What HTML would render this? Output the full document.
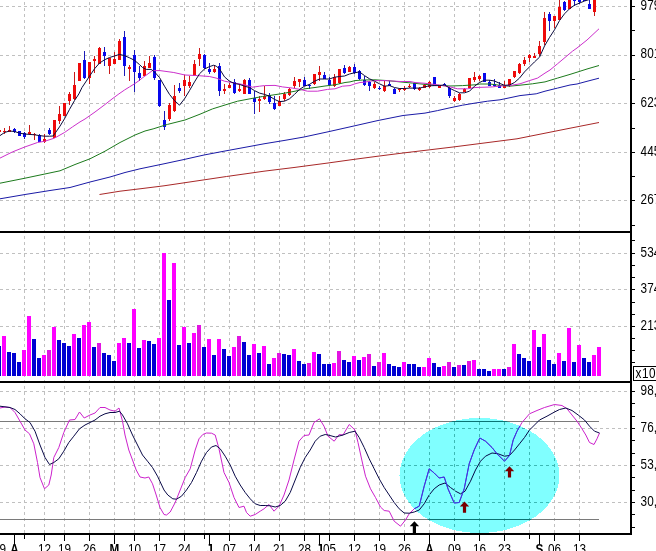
<!DOCTYPE html>
<html><head><meta charset="utf-8"><title>chart</title>
<style>
html,body{margin:0;padding:0;background:#fff;overflow:hidden}
svg{display:block}
text{font-family:"Liberation Sans",sans-serif;font-size:14.7px;fill:#000}
.b{font-weight:bold}
</style></head><body>
<svg width="656" height="551" viewBox="0 0 656 551">
<rect width="656" height="551" fill="#fff"/>
<g stroke="#c0c0c0" stroke-width="1" stroke-dasharray="3 3" shape-rendering="crispEdges">
<line x1="24.5" y1="2" x2="24.5" y2="231"/><line x1="24.5" y1="230" x2="24.5" y2="381"/><line x1="24.5" y1="380" x2="24.5" y2="533"/>
<line x1="44.5" y1="2" x2="44.5" y2="231"/><line x1="44.5" y1="230" x2="44.5" y2="381"/><line x1="44.5" y1="380" x2="44.5" y2="533"/>
<line x1="64.5" y1="2" x2="64.5" y2="231"/><line x1="64.5" y1="230" x2="64.5" y2="381"/><line x1="64.5" y1="380" x2="64.5" y2="533"/>
<line x1="89.5" y1="2" x2="89.5" y2="231"/><line x1="89.5" y1="230" x2="89.5" y2="381"/><line x1="89.5" y1="380" x2="89.5" y2="533"/>
<line x1="114.5" y1="2" x2="114.5" y2="231"/><line x1="114.5" y1="230" x2="114.5" y2="381"/><line x1="114.5" y1="380" x2="114.5" y2="533"/>
<line x1="134.5" y1="2" x2="134.5" y2="231"/><line x1="134.5" y1="230" x2="134.5" y2="381"/><line x1="134.5" y1="380" x2="134.5" y2="533"/>
<line x1="159.5" y1="2" x2="159.5" y2="231"/><line x1="159.5" y1="230" x2="159.5" y2="381"/><line x1="159.5" y1="380" x2="159.5" y2="533"/>
<line x1="184.5" y1="2" x2="184.5" y2="231"/><line x1="184.5" y1="230" x2="184.5" y2="381"/><line x1="184.5" y1="380" x2="184.5" y2="533"/>
<line x1="204.5" y1="2" x2="204.5" y2="231"/><line x1="204.5" y1="230" x2="204.5" y2="381"/><line x1="204.5" y1="380" x2="204.5" y2="533"/>
<line x1="229.5" y1="2" x2="229.5" y2="231"/><line x1="229.5" y1="230" x2="229.5" y2="381"/><line x1="229.5" y1="380" x2="229.5" y2="533"/>
<line x1="254.5" y1="2" x2="254.5" y2="231"/><line x1="254.5" y1="230" x2="254.5" y2="381"/><line x1="254.5" y1="380" x2="254.5" y2="533"/>
<line x1="279.5" y1="2" x2="279.5" y2="231"/><line x1="279.5" y1="230" x2="279.5" y2="381"/><line x1="279.5" y1="380" x2="279.5" y2="533"/>
<line x1="304.5" y1="2" x2="304.5" y2="231"/><line x1="304.5" y1="230" x2="304.5" y2="381"/><line x1="304.5" y1="380" x2="304.5" y2="533"/>
<line x1="329.5" y1="2" x2="329.5" y2="231"/><line x1="329.5" y1="230" x2="329.5" y2="381"/><line x1="329.5" y1="380" x2="329.5" y2="533"/>
<line x1="354.5" y1="2" x2="354.5" y2="231"/><line x1="354.5" y1="230" x2="354.5" y2="381"/><line x1="354.5" y1="380" x2="354.5" y2="533"/>
<line x1="379.5" y1="2" x2="379.5" y2="231"/><line x1="379.5" y1="230" x2="379.5" y2="381"/><line x1="379.5" y1="380" x2="379.5" y2="533"/>
<line x1="404.5" y1="2" x2="404.5" y2="231"/><line x1="404.5" y1="230" x2="404.5" y2="381"/><line x1="404.5" y1="380" x2="404.5" y2="533"/>
<line x1="429.5" y1="2" x2="429.5" y2="231"/><line x1="429.5" y1="230" x2="429.5" y2="381"/><line x1="429.5" y1="380" x2="429.5" y2="533"/>
<line x1="454.5" y1="2" x2="454.5" y2="231"/><line x1="454.5" y1="230" x2="454.5" y2="381"/><line x1="454.5" y1="380" x2="454.5" y2="533"/>
<line x1="479.5" y1="2" x2="479.5" y2="231"/><line x1="479.5" y1="230" x2="479.5" y2="381"/><line x1="479.5" y1="380" x2="479.5" y2="533"/>
<line x1="504.5" y1="2" x2="504.5" y2="231"/><line x1="504.5" y1="230" x2="504.5" y2="381"/><line x1="504.5" y1="380" x2="504.5" y2="533"/>
<line x1="529.5" y1="2" x2="529.5" y2="231"/><line x1="529.5" y1="230" x2="529.5" y2="381"/><line x1="529.5" y1="380" x2="529.5" y2="533"/>
<line x1="554.5" y1="2" x2="554.5" y2="231"/><line x1="554.5" y1="230" x2="554.5" y2="381"/><line x1="554.5" y1="380" x2="554.5" y2="533"/>
<line x1="579.5" y1="2" x2="579.5" y2="231"/><line x1="579.5" y1="230" x2="579.5" y2="381"/><line x1="579.5" y1="380" x2="579.5" y2="533"/>
<line x1="0" y1="6.5" x2="629" y2="6.5"/>
<line x1="0" y1="55.5" x2="629" y2="55.5"/>
<line x1="0" y1="103.5" x2="629" y2="103.5"/>
<line x1="0" y1="152.5" x2="629" y2="152.5"/>
<line x1="0" y1="200.5" x2="629" y2="200.5"/>
<line x1="0" y1="253.5" x2="629" y2="253.5"/>
<line x1="0" y1="289.5" x2="629" y2="289.5"/>
<line x1="0" y1="326.5" x2="629" y2="326.5"/>
<line x1="0" y1="391.5" x2="629" y2="391.5"/>
<line x1="0" y1="428.5" x2="629" y2="428.5"/>
<line x1="0" y1="465.5" x2="629" y2="465.5"/>
<line x1="0" y1="502.5" x2="629" y2="502.5"/>
</g>
<g stroke="#7a7a7a" stroke-width="1" shape-rendering="crispEdges"><line x1="0" y1="421.5" x2="599" y2="421.5"/><line x1="0" y1="519.5" x2="599" y2="519.5"/></g>
<g shape-rendering="crispEdges">
<rect x="-3" y="346" width="4" height="30" fill="#0000d2"/><rect x="2" y="336" width="4" height="40" fill="#ff00ff"/><rect x="7" y="352" width="4" height="24" fill="#0000d2"/><rect x="12" y="353" width="4" height="23" fill="#0000d2"/><rect x="17" y="362" width="4" height="14" fill="#0000d2"/><rect x="22" y="350" width="4" height="26" fill="#ff00ff"/><rect x="27" y="316" width="4" height="60" fill="#ff00ff"/><rect x="32" y="339" width="4" height="37" fill="#0000d2"/><rect x="37" y="358" width="4" height="18" fill="#0000d2"/><rect x="42" y="355" width="4" height="21" fill="#ff00ff"/><rect x="47" y="350" width="4" height="26" fill="#e214e2"/><rect x="52" y="327" width="4" height="49" fill="#ff00ff"/><rect x="57" y="340" width="4" height="36" fill="#0000d2"/><rect x="62" y="343" width="4" height="33" fill="#0000d2"/><rect x="67" y="346" width="4" height="30" fill="#0000d2"/><rect x="72" y="334" width="4" height="42" fill="#ff00ff"/><rect x="77" y="338" width="4" height="38" fill="#0000d2"/><rect x="82" y="325" width="4" height="51" fill="#ff00ff"/><rect x="87" y="322" width="4" height="54" fill="#ff00ff"/><rect x="92" y="347" width="4" height="29" fill="#0000d2"/><rect x="97" y="343" width="4" height="33" fill="#e214e2"/><rect x="102" y="353" width="4" height="23" fill="#0000d2"/><rect x="107" y="355" width="4" height="21" fill="#0000d2"/><rect x="112" y="361" width="4" height="15" fill="#0000d2"/><rect x="117" y="343" width="4" height="33" fill="#ff00ff"/><rect x="122" y="338" width="4" height="38" fill="#ff00ff"/><rect x="127" y="343" width="4" height="33" fill="#0000d2"/><rect x="132" y="309" width="4" height="67" fill="#ff00ff"/><rect x="137" y="348" width="4" height="28" fill="#0000d2"/><rect x="142" y="340" width="4" height="36" fill="#ff00ff"/><rect x="147" y="341" width="4" height="35" fill="#0000d2"/><rect x="152" y="344" width="4" height="32" fill="#0000d2"/><rect x="157" y="338" width="4" height="38" fill="#ff00ff"/><rect x="162" y="253" width="4" height="123" fill="#ff00ff"/><rect x="167" y="300" width="4" height="76" fill="#0000d2"/><rect x="172" y="263" width="4" height="113" fill="#ff00ff"/><rect x="177" y="345" width="4" height="31" fill="#0000d2"/><rect x="182" y="327" width="4" height="49" fill="#ff00ff"/><rect x="187" y="343" width="4" height="33" fill="#0000d2"/><rect x="192" y="333" width="4" height="43" fill="#ff00ff"/><rect x="197" y="325" width="4" height="51" fill="#e214e2"/><rect x="202" y="347" width="4" height="29" fill="#0000d2"/><rect x="207" y="339" width="4" height="37" fill="#ff00ff"/><rect x="212" y="355" width="4" height="21" fill="#0000d2"/><rect x="217" y="339" width="4" height="37" fill="#ff00ff"/><rect x="222" y="349" width="4" height="27" fill="#0000d2"/><rect x="227" y="356" width="4" height="20" fill="#0000d2"/><rect x="232" y="347" width="4" height="29" fill="#ff00ff"/><rect x="237" y="336" width="4" height="40" fill="#e214e2"/><rect x="242" y="342" width="4" height="34" fill="#0000d2"/><rect x="247" y="355" width="4" height="21" fill="#0000d2"/><rect x="252" y="344" width="4" height="32" fill="#ff00ff"/><rect x="257" y="353" width="4" height="23" fill="#0000d2"/><rect x="262" y="346" width="4" height="30" fill="#ff00ff"/><rect x="267" y="364" width="4" height="12" fill="#0000d2"/><rect x="272" y="358" width="4" height="18" fill="#ff00ff"/><rect x="277" y="353" width="4" height="23" fill="#e214e2"/><rect x="282" y="354" width="4" height="22" fill="#0000d2"/><rect x="287" y="355" width="4" height="21" fill="#0000d2"/><rect x="292" y="349" width="4" height="27" fill="#ff00ff"/><rect x="297" y="361" width="4" height="15" fill="#0000d2"/><rect x="302" y="364" width="4" height="12" fill="#0000d2"/><rect x="307" y="363" width="4" height="13" fill="#e214e2"/><rect x="312" y="352" width="4" height="24" fill="#ff00ff"/><rect x="317" y="354" width="4" height="22" fill="#0000d2"/><rect x="322" y="364" width="4" height="12" fill="#0000d2"/><rect x="327" y="364" width="4" height="12" fill="#0000d2"/><rect x="332" y="363" width="4" height="13" fill="#ff00ff"/><rect x="337" y="351" width="4" height="25" fill="#e214e2"/><rect x="342" y="360" width="4" height="16" fill="#0000d2"/><rect x="347" y="362" width="4" height="14" fill="#0000d2"/><rect x="352" y="356" width="4" height="20" fill="#ff00ff"/><rect x="357" y="360" width="4" height="16" fill="#0000d2"/><rect x="362" y="357" width="4" height="19" fill="#ff00ff"/><rect x="367" y="354" width="4" height="22" fill="#e214e2"/><rect x="372" y="366" width="4" height="10" fill="#0000d2"/><rect x="377" y="362" width="4" height="14" fill="#e214e2"/><rect x="382" y="353" width="4" height="23" fill="#ff00ff"/><rect x="387" y="364" width="4" height="12" fill="#0000d2"/><rect x="392" y="366" width="4" height="10" fill="#0000d2"/><rect x="397" y="367" width="4" height="9" fill="#0000d2"/><rect x="402" y="362" width="4" height="14" fill="#ff00ff"/><rect x="407" y="364" width="4" height="12" fill="#0000d2"/><rect x="412" y="364" width="4" height="12" fill="#0000d2"/><rect x="417" y="367" width="4" height="9" fill="#0000d2"/><rect x="422" y="367" width="4" height="9" fill="#ff00ff"/><rect x="427" y="358" width="4" height="18" fill="#ff00ff"/><rect x="432" y="363" width="4" height="13" fill="#0000d2"/><rect x="437" y="367" width="4" height="9" fill="#0000d2"/><rect x="442" y="366" width="4" height="10" fill="#ff00ff"/><rect x="447" y="362" width="4" height="14" fill="#e214e2"/><rect x="452" y="367" width="4" height="9" fill="#0000d2"/><rect x="457" y="365" width="4" height="11" fill="#e214e2"/><rect x="462" y="365" width="4" height="11" fill="#0000d2"/><rect x="467" y="361" width="4" height="15" fill="#e214e2"/><rect x="472" y="360" width="4" height="16" fill="#ff00ff"/><rect x="477" y="369" width="4" height="7" fill="#0000d2"/><rect x="482" y="369" width="4" height="7" fill="#0000d2"/><rect x="487" y="371" width="4" height="5" fill="#0000d2"/><rect x="492" y="369" width="4" height="7" fill="#ff00ff"/><rect x="497" y="369" width="4" height="7" fill="#ff00ff"/><rect x="502" y="369" width="4" height="7" fill="#0000d2"/><rect x="507" y="367" width="4" height="9" fill="#e214e2"/><rect x="512" y="344" width="4" height="32" fill="#ff00ff"/><rect x="517" y="354" width="4" height="22" fill="#0000d2"/><rect x="522" y="358" width="4" height="18" fill="#0000d2"/><rect x="527" y="361" width="4" height="15" fill="#0000d2"/><rect x="532" y="330" width="4" height="46" fill="#ff00ff"/><rect x="537" y="347" width="4" height="29" fill="#0000d2"/><rect x="542" y="334" width="4" height="42" fill="#ff00ff"/><rect x="547" y="360" width="4" height="16" fill="#0000d2"/><rect x="552" y="364" width="4" height="12" fill="#0000d2"/><rect x="557" y="353" width="4" height="23" fill="#ff00ff"/><rect x="562" y="361" width="4" height="15" fill="#0000d2"/><rect x="567" y="328" width="4" height="48" fill="#ff00ff"/><rect x="572" y="362" width="4" height="14" fill="#0000d2"/><rect x="577" y="345" width="4" height="31" fill="#ff00ff"/><rect x="582" y="358" width="4" height="18" fill="#0000d2"/><rect x="587" y="362" width="4" height="14" fill="#0000d2"/><rect x="592" y="355" width="4" height="21" fill="#ff00ff"/><rect x="597" y="347" width="4" height="29" fill="#ff00ff"/>
</g>
<g shape-rendering="crispEdges">
<rect x="-1" y="129" width="1" height="5" fill="#c81a1a"/><rect x="-2" y="130" width="3" height="2" fill="#ee0a0a"/><rect x="4" y="128" width="1" height="6" fill="#c81a1a"/><rect x="3" y="131" width="3" height="1" fill="#ee0a0a"/><rect x="9" y="126" width="1" height="6" fill="#c81a1a"/><rect x="8" y="130" width="3" height="2" fill="#ee0a0a"/><rect x="14" y="128" width="1" height="5" fill="#1a1ab8"/><rect x="13" y="129" width="3" height="3" fill="#0808ec"/><rect x="19" y="131" width="1" height="5" fill="#1a1ab8"/><rect x="18" y="131" width="3" height="5" fill="#0808ec"/><rect x="24" y="132" width="1" height="7" fill="#1a1ab8"/><rect x="23" y="133" width="3" height="4" fill="#0808ec"/><rect x="29" y="125" width="1" height="10" fill="#c81a1a"/><rect x="28" y="132" width="3" height="2" fill="#ee0a0a"/><rect x="34" y="133" width="1" height="7" fill="#c81a1a"/><rect x="33" y="134" width="3" height="1" fill="#ee0a0a"/><rect x="39" y="134" width="1" height="8" fill="#1a1ab8"/><rect x="38" y="135" width="3" height="7" fill="#0808ec"/><rect x="44" y="134" width="1" height="9" fill="#c81a1a"/><rect x="43" y="139" width="3" height="3" fill="#ee0a0a"/><rect x="49" y="128" width="1" height="7" fill="#1a1ab8"/><rect x="48" y="130" width="3" height="4" fill="#0808ec"/><rect x="54" y="120" width="1" height="18" fill="#c81a1a"/><rect x="53" y="120" width="3" height="18" fill="#ee0a0a"/><rect x="59" y="106" width="1" height="18" fill="#c81a1a"/><rect x="58" y="114" width="3" height="7" fill="#ee0a0a"/><rect x="64" y="103" width="1" height="13" fill="#c81a1a"/><rect x="63" y="103" width="3" height="13" fill="#ee0a0a"/><rect x="69" y="92" width="1" height="13" fill="#c81a1a"/><rect x="68" y="94" width="3" height="7" fill="#ee0a0a"/><rect x="74" y="72" width="1" height="28" fill="#c81a1a"/><rect x="73" y="85" width="3" height="14" fill="#ee0a0a"/><rect x="79" y="63" width="1" height="18" fill="#c81a1a"/><rect x="78" y="63" width="3" height="18" fill="#ee0a0a"/><rect x="84" y="51" width="1" height="28" fill="#1a1ab8"/><rect x="83" y="60" width="3" height="18" fill="#0808ec"/><rect x="89" y="62" width="1" height="22" fill="#c81a1a"/><rect x="88" y="62" width="3" height="16" fill="#ee0a0a"/><rect x="94" y="56" width="1" height="17" fill="#c81a1a"/><rect x="93" y="59" width="3" height="2" fill="#ee0a0a"/><rect x="99" y="47" width="1" height="17" fill="#c81a1a"/><rect x="98" y="48" width="3" height="16" fill="#ee0a0a"/><rect x="104" y="47" width="1" height="19" fill="#1a1ab8"/><rect x="103" y="52" width="3" height="4" fill="#0808ec"/><rect x="109" y="58" width="1" height="16" fill="#c81a1a"/><rect x="108" y="58" width="3" height="8" fill="#ee0a0a"/><rect x="114" y="52" width="1" height="12" fill="#c81a1a"/><rect x="113" y="59" width="3" height="5" fill="#ee0a0a"/><rect x="119" y="39" width="1" height="21" fill="#c81a1a"/><rect x="118" y="41" width="3" height="19" fill="#ee0a0a"/><rect x="124" y="31" width="1" height="45" fill="#1a1ab8"/><rect x="123" y="37" width="3" height="29" fill="#0808ec"/><rect x="129" y="65" width="1" height="16" fill="#c81a1a"/><rect x="128" y="67" width="3" height="2" fill="#ee0a0a"/><rect x="134" y="50" width="1" height="42" fill="#1a1ab8"/><rect x="133" y="55" width="3" height="17" fill="#0808ec"/><rect x="139" y="66" width="1" height="15" fill="#1a1ab8"/><rect x="138" y="73" width="3" height="5" fill="#0808ec"/><rect x="144" y="61" width="1" height="15" fill="#c81a1a"/><rect x="143" y="66" width="3" height="10" fill="#ee0a0a"/><rect x="149" y="56" width="1" height="12" fill="#c81a1a"/><rect x="148" y="63" width="3" height="5" fill="#ee0a0a"/><rect x="154" y="55" width="1" height="25" fill="#1a1ab8"/><rect x="153" y="57" width="3" height="21" fill="#0808ec"/><rect x="159" y="80" width="1" height="27" fill="#1a1ab8"/><rect x="158" y="80" width="3" height="26" fill="#0808ec"/><rect x="164" y="111" width="1" height="19" fill="#1a1ab8"/><rect x="163" y="120" width="3" height="7" fill="#0808ec"/><rect x="169" y="103" width="1" height="18" fill="#c81a1a"/><rect x="168" y="105" width="3" height="14" fill="#ee0a0a"/><rect x="174" y="85" width="1" height="27" fill="#c81a1a"/><rect x="173" y="96" width="3" height="15" fill="#ee0a0a"/><rect x="179" y="83" width="1" height="10" fill="#1a1ab8"/><rect x="178" y="88" width="3" height="3" fill="#0808ec"/><rect x="184" y="75" width="1" height="21" fill="#c81a1a"/><rect x="183" y="80" width="3" height="6" fill="#ee0a0a"/><rect x="189" y="76" width="1" height="12" fill="#c81a1a"/><rect x="188" y="82" width="3" height="4" fill="#ee0a0a"/><rect x="194" y="60" width="1" height="16" fill="#c81a1a"/><rect x="193" y="64" width="3" height="12" fill="#ee0a0a"/><rect x="199" y="48" width="1" height="18" fill="#c81a1a"/><rect x="198" y="54" width="3" height="5" fill="#ee0a0a"/><rect x="204" y="54" width="1" height="15" fill="#1a1ab8"/><rect x="203" y="55" width="3" height="13" fill="#0808ec"/><rect x="209" y="63" width="1" height="11" fill="#1a1ab8"/><rect x="208" y="69" width="3" height="3" fill="#0808ec"/><rect x="214" y="66" width="1" height="7" fill="#c81a1a"/><rect x="213" y="69" width="3" height="3" fill="#ee0a0a"/><rect x="219" y="63" width="1" height="33" fill="#1a1ab8"/><rect x="218" y="66" width="3" height="25" fill="#0808ec"/><rect x="224" y="84" width="1" height="10" fill="#c81a1a"/><rect x="223" y="89" width="3" height="2" fill="#ee0a0a"/><rect x="229" y="83" width="1" height="5" fill="#c81a1a"/><rect x="228" y="85" width="3" height="3" fill="#ee0a0a"/><rect x="234" y="79" width="1" height="15" fill="#1a1ab8"/><rect x="233" y="82" width="3" height="11" fill="#0808ec"/><rect x="239" y="84" width="1" height="8" fill="#c81a1a"/><rect x="238" y="89" width="3" height="2" fill="#ee0a0a"/><rect x="244" y="79" width="1" height="15" fill="#c81a1a"/><rect x="243" y="80" width="3" height="14" fill="#ee0a0a"/><rect x="249" y="78" width="1" height="16" fill="#1a1ab8"/><rect x="248" y="80" width="3" height="14" fill="#0808ec"/><rect x="254" y="91" width="1" height="23" fill="#1a1ab8"/><rect x="253" y="98" width="3" height="4" fill="#0808ec"/><rect x="259" y="96" width="1" height="16" fill="#c81a1a"/><rect x="258" y="99" width="3" height="2" fill="#ee0a0a"/><rect x="264" y="86" width="1" height="14" fill="#c81a1a"/><rect x="263" y="96" width="3" height="3" fill="#ee0a0a"/><rect x="269" y="93" width="1" height="11" fill="#1a1ab8"/><rect x="268" y="95" width="3" height="7" fill="#0808ec"/><rect x="274" y="96" width="1" height="14" fill="#1a1ab8"/><rect x="273" y="103" width="3" height="6" fill="#0808ec"/><rect x="279" y="96" width="1" height="10" fill="#c81a1a"/><rect x="278" y="101" width="3" height="5" fill="#ee0a0a"/><rect x="284" y="92" width="1" height="9" fill="#c81a1a"/><rect x="283" y="94" width="3" height="5" fill="#ee0a0a"/><rect x="289" y="88" width="1" height="8" fill="#c81a1a"/><rect x="288" y="89" width="3" height="6" fill="#ee0a0a"/><rect x="294" y="77" width="1" height="11" fill="#c81a1a"/><rect x="293" y="81" width="3" height="5" fill="#ee0a0a"/><rect x="299" y="79" width="1" height="8" fill="#c81a1a"/><rect x="298" y="79" width="3" height="3" fill="#ee0a0a"/><rect x="304" y="77" width="1" height="9" fill="#1a1ab8"/><rect x="303" y="80" width="3" height="6" fill="#0808ec"/><rect x="309" y="84" width="1" height="5" fill="#1a1ab8"/><rect x="308" y="85" width="3" height="1" fill="#0808ec"/><rect x="314" y="74" width="1" height="11" fill="#c81a1a"/><rect x="313" y="74" width="3" height="10" fill="#ee0a0a"/><rect x="319" y="66" width="1" height="15" fill="#c81a1a"/><rect x="318" y="72" width="3" height="3" fill="#ee0a0a"/><rect x="324" y="72" width="1" height="7" fill="#1a1ab8"/><rect x="323" y="75" width="3" height="4" fill="#0808ec"/><rect x="329" y="77" width="1" height="9" fill="#1a1ab8"/><rect x="328" y="80" width="3" height="5" fill="#0808ec"/><rect x="334" y="74" width="1" height="13" fill="#c81a1a"/><rect x="333" y="77" width="3" height="9" fill="#ee0a0a"/><rect x="339" y="69" width="1" height="15" fill="#c81a1a"/><rect x="338" y="69" width="3" height="14" fill="#ee0a0a"/><rect x="344" y="65" width="1" height="9" fill="#1a1ab8"/><rect x="343" y="68" width="3" height="5" fill="#0808ec"/><rect x="349" y="66" width="1" height="6" fill="#c81a1a"/><rect x="348" y="67" width="3" height="5" fill="#ee0a0a"/><rect x="354" y="64" width="1" height="10" fill="#1a1ab8"/><rect x="353" y="67" width="3" height="6" fill="#0808ec"/><rect x="359" y="70" width="1" height="10" fill="#1a1ab8"/><rect x="358" y="71" width="3" height="8" fill="#0808ec"/><rect x="364" y="76" width="1" height="10" fill="#1a1ab8"/><rect x="363" y="80" width="3" height="5" fill="#0808ec"/><rect x="369" y="81" width="1" height="10" fill="#1a1ab8"/><rect x="368" y="82" width="3" height="4" fill="#0808ec"/><rect x="374" y="82" width="1" height="7" fill="#c81a1a"/><rect x="373" y="84" width="3" height="4" fill="#ee0a0a"/><rect x="379" y="86" width="1" height="4" fill="#1a1ab8"/><rect x="378" y="88" width="3" height="1" fill="#0808ec"/><rect x="384" y="81" width="1" height="11" fill="#c81a1a"/><rect x="383" y="86" width="3" height="5" fill="#ee0a0a"/><rect x="389" y="81" width="1" height="5" fill="#1a1ab8"/><rect x="388" y="84" width="3" height="2" fill="#0808ec"/><rect x="394" y="88" width="1" height="6" fill="#1a1ab8"/><rect x="393" y="89" width="3" height="5" fill="#0808ec"/><rect x="399" y="88" width="1" height="4" fill="#c81a1a"/><rect x="398" y="89" width="3" height="1" fill="#ee0a0a"/><rect x="404" y="86" width="1" height="5" fill="#c81a1a"/><rect x="403" y="88" width="3" height="2" fill="#ee0a0a"/><rect x="409" y="84" width="1" height="4" fill="#c81a1a"/><rect x="408" y="86" width="3" height="1" fill="#ee0a0a"/><rect x="414" y="82" width="1" height="8" fill="#1a1ab8"/><rect x="413" y="83" width="3" height="6" fill="#0808ec"/><rect x="419" y="87" width="1" height="4" fill="#c81a1a"/><rect x="418" y="88" width="3" height="2" fill="#ee0a0a"/><rect x="424" y="84" width="1" height="4" fill="#c81a1a"/><rect x="423" y="85" width="3" height="3" fill="#ee0a0a"/><rect x="429" y="81" width="1" height="7" fill="#c81a1a"/><rect x="428" y="82" width="3" height="5" fill="#ee0a0a"/><rect x="434" y="77" width="1" height="9" fill="#1a1ab8"/><rect x="433" y="77" width="3" height="9" fill="#0808ec"/><rect x="439" y="85" width="1" height="3" fill="#c81a1a"/><rect x="438" y="86" width="3" height="2" fill="#ee0a0a"/><rect x="444" y="83" width="1" height="3" fill="#1a1ab8"/><rect x="443" y="84" width="3" height="2" fill="#0808ec"/><rect x="449" y="87" width="1" height="11" fill="#1a1ab8"/><rect x="448" y="88" width="3" height="8" fill="#0808ec"/><rect x="454" y="96" width="1" height="6" fill="#c81a1a"/><rect x="453" y="98" width="3" height="3" fill="#ee0a0a"/><rect x="459" y="93" width="1" height="8" fill="#c81a1a"/><rect x="458" y="94" width="3" height="6" fill="#ee0a0a"/><rect x="464" y="88" width="1" height="4" fill="#c81a1a"/><rect x="463" y="89" width="3" height="3" fill="#ee0a0a"/><rect x="469" y="78" width="1" height="10" fill="#c81a1a"/><rect x="468" y="78" width="3" height="10" fill="#ee0a0a"/><rect x="474" y="72" width="1" height="10" fill="#c81a1a"/><rect x="473" y="77" width="3" height="3" fill="#ee0a0a"/><rect x="479" y="75" width="1" height="6" fill="#c81a1a"/><rect x="478" y="76" width="3" height="3" fill="#ee0a0a"/><rect x="484" y="73" width="1" height="9" fill="#1a1ab8"/><rect x="483" y="73" width="3" height="9" fill="#0808ec"/><rect x="489" y="80" width="1" height="6" fill="#1a1ab8"/><rect x="488" y="82" width="3" height="4" fill="#0808ec"/><rect x="494" y="79" width="1" height="8" fill="#1a1ab8"/><rect x="493" y="84" width="3" height="2" fill="#0808ec"/><rect x="499" y="82" width="1" height="6" fill="#1a1ab8"/><rect x="498" y="85" width="3" height="3" fill="#0808ec"/><rect x="504" y="81" width="1" height="7" fill="#c81a1a"/><rect x="503" y="85" width="3" height="3" fill="#ee0a0a"/><rect x="509" y="79" width="1" height="8" fill="#c81a1a"/><rect x="508" y="79" width="3" height="7" fill="#ee0a0a"/><rect x="514" y="71" width="1" height="7" fill="#c81a1a"/><rect x="513" y="71" width="3" height="6" fill="#ee0a0a"/><rect x="519" y="63" width="1" height="11" fill="#c81a1a"/><rect x="518" y="64" width="3" height="9" fill="#ee0a0a"/><rect x="524" y="57" width="1" height="9" fill="#c81a1a"/><rect x="523" y="60" width="3" height="4" fill="#ee0a0a"/><rect x="529" y="54" width="1" height="8" fill="#c81a1a"/><rect x="528" y="55" width="3" height="3" fill="#ee0a0a"/><rect x="534" y="53" width="1" height="5" fill="#c81a1a"/><rect x="533" y="56" width="3" height="2" fill="#ee0a0a"/><rect x="539" y="41" width="1" height="15" fill="#c81a1a"/><rect x="538" y="46" width="3" height="8" fill="#ee0a0a"/><rect x="544" y="12" width="1" height="33" fill="#c81a1a"/><rect x="543" y="18" width="3" height="24" fill="#ee0a0a"/><rect x="549" y="12" width="1" height="19" fill="#1a1ab8"/><rect x="548" y="14" width="3" height="7" fill="#0808ec"/><rect x="554" y="16" width="1" height="12" fill="#c81a1a"/><rect x="553" y="16" width="3" height="5" fill="#ee0a0a"/><rect x="559" y="-1" width="1" height="21" fill="#c81a1a"/><rect x="558" y="7" width="3" height="13" fill="#ee0a0a"/><rect x="564" y="1" width="1" height="10" fill="#1a1ab8"/><rect x="563" y="2" width="3" height="8" fill="#0808ec"/><rect x="569" y="-1" width="1" height="10" fill="#c81a1a"/><rect x="568" y="-1" width="3" height="10" fill="#ee0a0a"/><rect x="574" y="-1" width="1" height="7" fill="#1a1ab8"/><rect x="573" y="-1" width="3" height="2" fill="#0808ec"/><rect x="579" y="-1" width="1" height="5" fill="#1a1ab8"/><rect x="578" y="-1" width="3" height="3" fill="#0808ec"/><rect x="584" y="-1" width="1" height="2" fill="#1a1ab8"/><rect x="583" y="-1" width="3" height="2" fill="#0808ec"/><rect x="589" y="-1" width="1" height="10" fill="#1a1ab8"/><rect x="588" y="4" width="3" height="5" fill="#0808ec"/><rect x="594" y="-1" width="1" height="17" fill="#c81a1a"/><rect x="593" y="-1" width="3" height="13" fill="#ee0a0a"/>
</g>
<polyline points="99.5,194.5 120.0,191.2 140.0,188.8 164.0,185.8 226.5,176.5 264.0,171.2 294.0,167.5 328.0,163.0 353.0,159.5 378.0,156.2 403.0,153.0 428.0,150.0 453.0,147.0 478.0,143.8 492.0,142.0 517.0,138.8 542.0,133.8 567.0,128.8 599.0,122.5" fill="none" stroke="#a82828" stroke-width="1" stroke-linejoin="round"/>
<polyline points="0.0,198.8 25.0,194.5 50.0,190.5 70.0,187.5 90.0,182.0 110.0,177.0 125.0,172.5 140.0,168.8 164.0,163.8 184.0,159.5 204.0,155.0 224.0,151.2 244.0,147.5 264.0,143.8 284.0,140.5 304.0,137.0 328.0,131.8 353.0,126.2 378.0,120.5 403.0,115.5 425.0,113.1 437.5,110.6 450.0,107.8 462.5,105.2 475.0,103.1 487.5,101.2 500.0,99.8 504.4,98.9 520.0,95.6 536.2,93.8 545.0,91.2 557.5,88.1 570.0,85.0 577.0,84.0 587.0,81.3 599.0,78.2" fill="none" stroke="#1a1aa6" stroke-width="1" stroke-linejoin="round"/>
<polyline points="0.0,183.2 25.0,178.2 60.0,170.8 75.0,164.5 90.0,158.8 105.0,151.2 120.0,142.5 135.0,135.0 145.0,131.0 153.1,128.9 167.5,124.4 185.0,120.0 200.0,114.2 212.5,108.9 225.0,105.0 237.5,101.2 250.0,98.8 262.5,96.5 275.0,94.7 285.0,93.1 295.0,91.2 305.0,88.8 315.0,87.5 325.0,86.0 335.0,84.8 345.0,82.5 350.0,81.9 355.0,80.6 362.5,80.0 375.0,79.8 387.5,80.6 400.0,81.9 412.5,83.1 425.0,84.4 437.5,85.2 450.0,86.0 462.5,85.6 475.0,84.8 480.0,84.0 490.0,84.0 500.0,85.3 509.5,86.2 520.0,85.2 532.5,83.8 545.0,81.9 557.5,78.1 570.0,74.4 577.0,72.2 587.0,69.0 599.0,65.5" fill="none" stroke="#1c7a1c" stroke-width="1" stroke-linejoin="round"/>
<polyline points="0.0,158.1 12.5,151.9 25.0,146.9 37.5,142.5 45.0,141.2 54.5,138.1 64.5,132.5 72.5,126.9 80.0,121.9 85.0,119.0 95.0,112.0 105.0,104.5 112.0,99.0 118.9,93.9 124.5,90.0 129.5,86.9 134.5,83.8 139.5,80.3 142.5,77.8 152.5,70.6 160.0,70.6 173.8,72.5 185.0,75.0 197.5,75.6 209.5,76.5 216.2,78.1 224.5,81.2 234.5,83.1 244.5,84.8 252.5,87.2 259.5,86.2 264.5,85.6 275.0,85.4 282.5,86.9 292.5,88.1 300.0,89.4 307.5,91.2 317.5,91.2 327.5,89.4 335.0,88.8 342.5,86.2 350.0,85.6 355.0,83.8 360.0,82.5 364.5,82.2 370.0,81.2 375.0,80.6 385.0,80.6 392.5,81.0 400.0,81.5 410.0,81.5 415.0,82.5 425.0,83.3 437.5,84.8 450.0,86.9 457.5,88.8 467.5,88.8 475.0,87.5 485.0,87.2 492.5,86.9 500.0,86.0 509.5,85.6 520.0,83.8 529.5,80.6 537.5,78.1 545.0,73.1 550.0,70.0 557.5,63.8 565.0,57.5 572.5,51.2 577.0,48.0 587.0,40.0 599.0,28.8" fill="none" stroke="#cc30cc" stroke-width="1" stroke-linejoin="round"/>
<polyline points="0.0,135.6 4.5,132.5 9.5,131.0 14.5,131.5 19.5,133.1 24.5,134.0 29.5,134.4 34.5,134.8 39.5,135.6 44.5,136.2 49.5,136.2 53.1,136.0 55.6,132.5 59.5,126.9 64.5,118.8 69.5,109.4 74.5,100.6 78.9,93.9 82.0,87.5 87.0,80.0 89.5,76.2 94.5,68.8 99.5,63.1 104.5,59.8 109.5,57.5 114.5,56.0 119.5,54.4 124.5,55.6 129.5,57.8 134.5,60.3 139.5,64.6 142.5,67.5 146.2,69.4 151.2,69.4 154.5,71.9 159.5,77.5 164.5,86.2 169.5,94.4 174.5,100.6 179.5,105.2 184.5,98.8 189.5,90.6 194.5,81.9 199.5,73.8 204.5,69.0 209.5,66.6 213.8,65.2 216.2,66.2 219.5,68.8 224.5,76.9 229.5,81.2 234.5,83.5 239.5,84.4 244.5,86.2 249.5,87.5 254.5,90.6 259.5,93.1 264.5,94.4 269.5,96.2 274.5,99.4 279.5,101.6 284.5,101.2 289.5,98.8 294.5,94.4 299.5,89.4 304.5,86.2 309.5,84.4 314.5,81.2 319.5,79.0 324.5,79.0 329.5,79.0 334.5,77.2 339.5,76.5 344.5,76.0 349.5,74.0 354.5,72.8 359.5,71.9 364.5,75.6 369.5,78.8 374.5,81.2 379.5,83.8 384.5,86.2 389.5,85.6 394.5,87.5 399.5,88.5 404.5,88.5 409.5,88.1 414.5,88.1 419.5,88.1 424.5,86.9 429.5,85.8 434.5,85.6 439.5,85.6 444.5,84.8 449.5,88.1 454.5,90.6 459.5,92.8 464.5,92.8 469.5,91.2 474.5,86.2 479.5,82.5 484.5,80.2 489.5,80.2 494.5,81.0 499.5,83.3 504.5,85.3 509.5,85.0 514.5,82.5 519.5,78.1 524.5,71.9 529.5,66.9 534.5,61.9 539.5,57.2 544.5,46.0 549.5,37.5 554.5,29.8 559.5,20.6 564.5,13.8 569.5,8.8 574.5,5.2 579.5,3.1 584.5,1.0 589.5,-0.5 599.0,-4.0" fill="none" stroke="#0a0a3c" stroke-width="1" stroke-linejoin="round"/>
<polyline points="0.0,408.0 5.0,407.0 10.0,407.5 15.0,412.5 20.0,421.2 25.0,430.0 29.5,433.8 33.8,443.8 37.5,462.5 40.0,477.5 44.5,488.8 48.8,485.0 51.2,475.0 53.8,457.5 58.8,447.5 63.8,432.5 69.5,420.0 75.0,419.5 79.5,412.0 84.2,418.0 90.0,415.0 95.0,413.0 100.0,407.5 105.0,407.5 110.0,410.0 115.0,411.2 119.0,408.0 122.5,421.2 125.0,435.0 128.8,450.0 132.5,460.0 136.2,470.0 140.0,477.0 145.0,478.0 148.8,477.0 152.5,483.8 156.2,495.0 160.0,507.5 164.0,514.5 166.5,515.0 170.2,512.0 175.2,502.5 180.2,490.0 185.2,477.5 190.2,468.8 195.2,450.0 199.0,438.8 202.8,434.5 206.5,433.0 211.5,433.2 215.2,435.0 219.0,448.8 224.0,472.5 229.0,482.5 234.0,497.5 239.0,507.5 244.0,506.2 246.5,512.5 250.2,516.2 255.2,514.5 260.2,511.2 264.0,508.8 269.0,504.5 274.0,511.2 279.0,506.2 284.0,495.0 289.0,480.0 294.0,460.0 299.0,441.2 304.0,435.5 309.0,435.0 314.0,422.5 319.5,418.8 324.0,426.2 328.0,436.2 334.2,441.2 339.2,434.5 343.0,435.0 349.2,424.5 355.0,430.0 358.0,442.5 361.8,460.0 365.5,476.2 370.5,488.8 375.5,497.5 380.5,507.0 384.2,510.5 389.2,511.2 394.2,521.2 400.5,526.2 405.5,520.0 409.2,513.8 414.2,508.8 419.2,506.2 424.2,486.2 429.2,468.8 434.2,473.0 439.2,478.0 444.2,477.0 448.0,488.8 454.2,503.0 459.2,502.5 464.2,488.8 469.2,463.8 474.2,450.0 479.8,438.0 485.5,441.2 492.0,447.5 497.0,453.8 504.5,461.2 509.5,455.5 513.2,440.0 517.0,431.2 522.0,422.5 529.5,413.8 537.0,410.5 544.5,407.5 554.5,404.5 562.0,405.5 567.0,408.8 572.0,415.0 577.0,421.2 582.0,428.8 585.8,435.0 589.5,442.5 594.0,444.5 597.0,438.8 599.5,433.0" fill="none" stroke="#cc22cc" stroke-width="1" stroke-linejoin="round"/>
<polyline points="0.0,406.2 10.0,407.5 15.0,409.5 20.0,413.8 25.0,418.8 30.0,422.5 35.0,431.2 40.0,445.0 45.0,457.5 49.5,464.5 53.8,462.5 58.8,458.8 63.8,451.2 68.8,442.5 73.8,436.2 79.5,428.8 85.0,425.0 90.0,422.5 95.0,420.0 100.0,416.2 105.0,413.8 110.0,412.5 115.0,412.5 119.5,411.2 122.5,415.0 127.5,423.8 132.5,435.0 137.5,445.0 142.5,455.0 147.5,461.2 152.5,467.5 157.5,476.2 164.0,490.0 167.8,495.0 172.8,498.8 176.5,499.2 181.5,496.2 186.5,490.0 191.5,482.5 196.5,472.5 201.5,461.2 206.5,452.5 211.5,447.0 216.0,445.5 220.2,448.8 225.2,456.2 230.2,465.0 235.2,476.2 240.2,485.0 245.2,492.5 250.2,498.8 255.2,503.8 260.2,505.5 265.2,505.5 270.2,505.8 275.2,507.0 280.2,505.5 285.2,501.2 290.2,492.5 295.2,480.0 300.2,467.5 305.2,457.5 310.2,450.0 315.2,441.2 320.2,436.2 325.2,434.5 328.0,435.0 335.5,437.0 343.0,435.0 349.2,432.5 355.0,431.2 359.2,437.5 364.2,447.5 369.2,458.8 374.2,468.8 379.2,478.8 384.2,487.5 389.2,495.0 394.2,502.5 399.2,508.8 404.2,513.0 409.2,513.2 414.2,512.0 419.2,510.0 424.2,503.8 429.2,495.0 434.2,488.8 439.2,485.0 445.0,483.0 450.5,487.5 455.5,491.2 460.5,493.8 465.0,491.2 470.5,481.2 475.5,470.0 480.5,461.2 485.5,456.2 492.0,453.0 498.2,453.8 504.5,456.2 509.5,455.5 514.5,450.0 519.5,443.8 524.5,437.5 529.5,430.0 534.5,425.0 539.5,420.0 547.0,416.2 554.5,412.0 559.5,409.5 565.8,408.0 572.0,410.5 578.2,415.0 584.5,420.0 589.5,426.2 594.5,431.2 599.5,433.0" fill="none" stroke="#0a0a48" stroke-width="1" stroke-linejoin="round"/>
<ellipse cx="479.5" cy="475.5" rx="80" ry="57.5" fill="#80ffff" style="mix-blend-mode:multiply" shape-rendering="crispEdges"/>
<clipPath id="ec"><ellipse cx="479.5" cy="475.5" rx="80" ry="57.5"/></clipPath>
<g clip-path="url(#ec)"><g stroke="#3cb8b4" stroke-width="1" stroke-dasharray="3 3" shape-rendering="crispEdges"><line x1="404.5" y1="380" x2="404.5" y2="533"/><line x1="429.5" y1="380" x2="429.5" y2="533"/><line x1="454.5" y1="380" x2="454.5" y2="533"/><line x1="479.5" y1="380" x2="479.5" y2="533"/><line x1="504.5" y1="380" x2="504.5" y2="533"/><line x1="529.5" y1="380" x2="529.5" y2="533"/><line x1="554.5" y1="380" x2="554.5" y2="533"/><line x1="0" y1="428.5" x2="629" y2="428.5"/><line x1="0" y1="465.5" x2="629" y2="465.5"/><line x1="0" y1="502.5" x2="629" y2="502.5"/></g><g stroke="#0a7474" stroke-width="1" shape-rendering="crispEdges"><line x1="0" y1="421.5" x2="599" y2="421.5"/><line x1="0" y1="519.5" x2="599" y2="519.5"/></g><polyline points="0.0,408.0 5.0,407.0 10.0,407.5 15.0,412.5 20.0,421.2 25.0,430.0 29.5,433.8 33.8,443.8 37.5,462.5 40.0,477.5 44.5,488.8 48.8,485.0 51.2,475.0 53.8,457.5 58.8,447.5 63.8,432.5 69.5,420.0 75.0,419.5 79.5,412.0 84.2,418.0 90.0,415.0 95.0,413.0 100.0,407.5 105.0,407.5 110.0,410.0 115.0,411.2 119.0,408.0 122.5,421.2 125.0,435.0 128.8,450.0 132.5,460.0 136.2,470.0 140.0,477.0 145.0,478.0 148.8,477.0 152.5,483.8 156.2,495.0 160.0,507.5 164.0,514.5 166.5,515.0 170.2,512.0 175.2,502.5 180.2,490.0 185.2,477.5 190.2,468.8 195.2,450.0 199.0,438.8 202.8,434.5 206.5,433.0 211.5,433.2 215.2,435.0 219.0,448.8 224.0,472.5 229.0,482.5 234.0,497.5 239.0,507.5 244.0,506.2 246.5,512.5 250.2,516.2 255.2,514.5 260.2,511.2 264.0,508.8 269.0,504.5 274.0,511.2 279.0,506.2 284.0,495.0 289.0,480.0 294.0,460.0 299.0,441.2 304.0,435.5 309.0,435.0 314.0,422.5 319.5,418.8 324.0,426.2 328.0,436.2 334.2,441.2 339.2,434.5 343.0,435.0 349.2,424.5 355.0,430.0 358.0,442.5 361.8,460.0 365.5,476.2 370.5,488.8 375.5,497.5 380.5,507.0 384.2,510.5 389.2,511.2 394.2,521.2 400.5,526.2 405.5,520.0 409.2,513.8 414.2,508.8 419.2,506.2 424.2,486.2 429.2,468.8 434.2,473.0 439.2,478.0 444.2,477.0 448.0,488.8 454.2,503.0 459.2,502.5 464.2,488.8 469.2,463.8 474.2,450.0 479.8,438.0 485.5,441.2 492.0,447.5 497.0,453.8 504.5,461.2 509.5,455.5 513.2,440.0 517.0,431.2 522.0,422.5 529.5,413.8 537.0,410.5 544.5,407.5 554.5,404.5 562.0,405.5 567.0,408.8 572.0,415.0 577.0,421.2 582.0,428.8 585.8,435.0 589.5,442.5 594.0,444.5 597.0,438.8 599.5,433.0" fill="none" stroke="#3a3ae6" stroke-width="1" stroke-linejoin="round"/>
</g>
<path d="M414.4 521.2 L419.09999999999997 526.2 L416.0 526.2 L416.0 533.5 L412.79999999999995 533.5 L412.79999999999995 526.2 L409.7 526.2 Z" fill="#000"/>
<path d="M464.5 501.4 L469.2 506.4 L466.1 506.4 L466.1 512.7 L462.9 512.7 L462.9 506.4 L459.8 506.4 Z" fill="#7a0000"/>
<path d="M509.5 466.3 L514.2 471.3 L511.1 471.3 L511.1 477.4 L507.9 477.4 L507.9 471.3 L504.8 471.3 Z" fill="#7a0000"/>
<g fill="#000" shape-rendering="crispEdges">
<rect x="630" y="0" width="2" height="535"/>
<rect x="0" y="231" width="631" height="2"/>
<rect x="0" y="381" width="631" height="2"/>
<rect x="0" y="533" width="632" height="2"/>
<rect x="632" y="6" width="3" height="1"/><rect x="632" y="30" width="3" height="1"/><rect x="632" y="55" width="3" height="1"/><rect x="632" y="79" width="3" height="1"/><rect x="632" y="103" width="3" height="1"/><rect x="632" y="128" width="3" height="1"/><rect x="632" y="152" width="3" height="1"/><rect x="632" y="176" width="3" height="1"/><rect x="632" y="200" width="3" height="1"/><rect x="632" y="225" width="3" height="1"/><rect x="632" y="240" width="3" height="1"/><rect x="632" y="253" width="3" height="1"/><rect x="632" y="265" width="3" height="1"/><rect x="632" y="277" width="3" height="1"/><rect x="632" y="289" width="3" height="1"/><rect x="632" y="302" width="3" height="1"/><rect x="632" y="314" width="3" height="1"/><rect x="632" y="326" width="3" height="1"/><rect x="632" y="338" width="3" height="1"/><rect x="632" y="350" width="3" height="1"/><rect x="632" y="362" width="3" height="1"/><rect x="632" y="391" width="3" height="1"/><rect x="632" y="403" width="3" height="1"/><rect x="632" y="416" width="3" height="1"/><rect x="632" y="428" width="3" height="1"/><rect x="632" y="440" width="3" height="1"/><rect x="632" y="453" width="3" height="1"/><rect x="632" y="465" width="3" height="1"/><rect x="632" y="477" width="3" height="1"/><rect x="632" y="490" width="3" height="1"/><rect x="632" y="502" width="3" height="1"/><rect x="632" y="514" width="3" height="1"/><rect x="632" y="527" width="3" height="1"/>
<rect x="24" y="535" width="1" height="4"/><rect x="44" y="535" width="1" height="6"/><rect x="64" y="535" width="1" height="6"/><rect x="89" y="535" width="1" height="6"/><rect x="134" y="535" width="1" height="6"/><rect x="159" y="535" width="1" height="6"/><rect x="184" y="535" width="1" height="6"/><rect x="204" y="535" width="1" height="4"/><rect x="229" y="535" width="1" height="6"/><rect x="254" y="535" width="1" height="6"/><rect x="279" y="535" width="1" height="6"/><rect x="304" y="535" width="1" height="6"/><rect x="329" y="535" width="1" height="6"/><rect x="354" y="535" width="1" height="6"/><rect x="379" y="535" width="1" height="6"/><rect x="404" y="535" width="1" height="6"/><rect x="454" y="535" width="1" height="6"/><rect x="479" y="535" width="1" height="6"/><rect x="504" y="535" width="1" height="6"/><rect x="529" y="535" width="1" height="4"/><rect x="554" y="535" width="1" height="6"/><rect x="579" y="535" width="1" height="6"/><rect x="14" y="535" width="1" height="9"/><rect x="114" y="535" width="1" height="9"/><rect x="209" y="535" width="1" height="9"/><rect x="319" y="535" width="1" height="9"/><rect x="429" y="535" width="1" height="9"/><rect x="539" y="535" width="1" height="9"/>
</g>
<text transform="translate(640.6 9.7) scale(0.8 1)" text-anchor="start">979</text>
<text transform="translate(640.6 58.339999999999996) scale(0.8 1)" text-anchor="start">801</text>
<text transform="translate(640.6 106.98) scale(0.8 1)" text-anchor="start">623</text>
<text transform="translate(640.6 155.62000000000003) scale(0.8 1)" text-anchor="start">445</text>
<text transform="translate(640.6 204.26000000000002) scale(0.8 1)" text-anchor="start">267</text>
<text transform="translate(640.6 256.5) scale(0.8 1)" text-anchor="start">534</text>
<text transform="translate(640.6 293.1) scale(0.8 1)" text-anchor="start">374</text>
<text transform="translate(640.6 329.7) scale(0.8 1)" text-anchor="start">213</text>
<text transform="translate(640.6 394.7) scale(0.8 1)" text-anchor="start">98,</text>
<text transform="translate(640.6 431.69) scale(0.8 1)" text-anchor="start">76,</text>
<text transform="translate(640.6 468.68) scale(0.8 1)" text-anchor="start">53,</text>
<text transform="translate(640.6 505.67) scale(0.8 1)" text-anchor="start">30,</text>
<rect x="633.5" y="366.5" width="40" height="13.5" fill="#fff" stroke="#000" stroke-width="1" shape-rendering="crispEdges"/>
<text transform="translate(635.6 378) scale(0.8 1)" letter-spacing="0.6">x100</text>
<text transform="translate(-0.5 554) scale(0.8 1)" text-anchor="middle">29</text>
<text transform="translate(44.5 554) scale(0.8 1)" text-anchor="middle">12</text>
<text transform="translate(64.5 554) scale(0.8 1)" text-anchor="middle">19</text>
<text transform="translate(89.5 554) scale(0.8 1)" text-anchor="middle">26</text>
<text transform="translate(134.5 554) scale(0.8 1)" text-anchor="middle">10</text>
<text transform="translate(159.5 554) scale(0.8 1)" text-anchor="middle">17</text>
<text transform="translate(184.5 554) scale(0.8 1)" text-anchor="middle">24</text>
<text transform="translate(229.5 554) scale(0.8 1)" text-anchor="middle">07</text>
<text transform="translate(254.5 554) scale(0.8 1)" text-anchor="middle">14</text>
<text transform="translate(279.5 554) scale(0.8 1)" text-anchor="middle">21</text>
<text transform="translate(304.5 554) scale(0.8 1)" text-anchor="middle">28</text>
<text transform="translate(329.5 554) scale(0.8 1)" text-anchor="middle">05</text>
<text transform="translate(354.5 554) scale(0.8 1)" text-anchor="middle">12</text>
<text transform="translate(379.5 554) scale(0.8 1)" text-anchor="middle">19</text>
<text transform="translate(404.5 554) scale(0.8 1)" text-anchor="middle">26</text>
<text transform="translate(454.5 554) scale(0.8 1)" text-anchor="middle">09</text>
<text transform="translate(479.5 554) scale(0.8 1)" text-anchor="middle">16</text>
<text transform="translate(504.5 554) scale(0.8 1)" text-anchor="middle">23</text>
<text transform="translate(554.5 554) scale(0.8 1)" text-anchor="middle">06</text>
<text transform="translate(579.5 554) scale(0.8 1)" text-anchor="middle">13</text>
<text transform="translate(14.5 554) scale(0.8 1)" text-anchor="middle" class="b">A</text>
<text transform="translate(114.5 554) scale(0.8 1)" text-anchor="middle" class="b">M</text>
<text transform="translate(209.5 554) scale(0.8 1)" text-anchor="middle" class="b">J</text>
<text transform="translate(319.5 554) scale(0.8 1)" text-anchor="middle" class="b">J</text>
<text transform="translate(429.5 554) scale(0.8 1)" text-anchor="middle" class="b">A</text>
<text transform="translate(539.5 554) scale(0.8 1)" text-anchor="middle" class="b">S</text>
</svg>
</body></html>
